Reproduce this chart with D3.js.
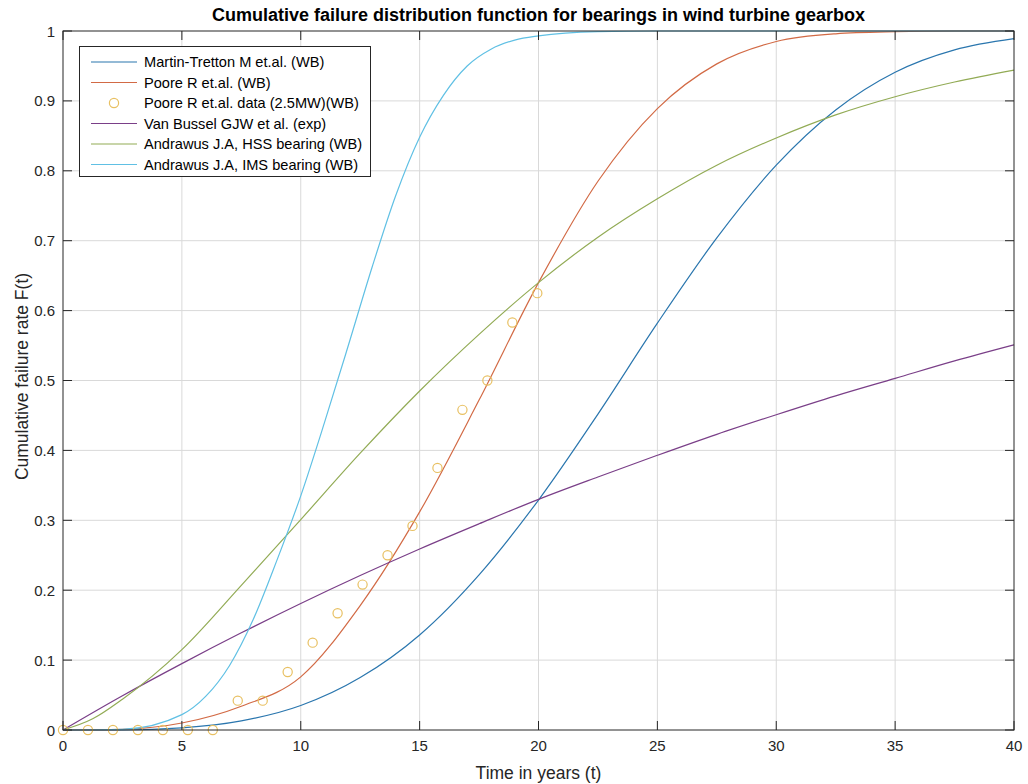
<!DOCTYPE html>
<html lang="en">
<head>
<meta charset="UTF-8">
<title>Cumulative failure distribution</title>
<script src="https://d3js.org/d3.v7.min.js"></script>
<style>
    body { margin: 0; background: #fff; }
    svg { font-family: "Liberation Sans", Arial, sans-serif; }
</style>
</head>
<body>
<svg id="chart" width="1028" height="784"></svg>
<script>
    // values
    const martinT = [0, 2.5, 5, 7.5, 10, 12.5, 15, 17.5, 20, 22.5, 25, 27.5, 30, 32.5, 35, 37.5, 40];
    const martinF = [0, 0.000, 0.003, 0.013, 0.035, 0.075, 0.136, 0.222, 0.329, 0.452, 0.582, 0.704, 0.808, 0.887, 0.941, 0.973, 0.989];

    const pooreT = [0, 2.5, 5, 7.5, 10, 12.5, 15, 17.5, 20, 22.5, 25, 27.5, 30, 32.5, 35, 37.5, 40];
    const pooreF = [0, 0.001, 0.010, 0.034, 0.076, 0.178, 0.312, 0.472, 0.640, 0.785, 0.889, 0.953, 0.985, 0.996, 0.999, 1.0, 1.0];

    const dataT = [0, 1.05, 2.1, 3.15, 4.2, 5.25, 6.3, 7.35, 8.4, 9.45, 10.5, 11.55, 12.6, 13.65, 14.7, 15.75, 16.8, 17.85, 18.9, 19.95];
    const dataF = [0, 0, 0, 0, 0, 0, 0, 0.042, 0.042, 0.083, 0.125, 0.167, 0.208, 0.25, 0.292, 0.375, 0.458, 0.5, 0.583, 0.625];

    const busselT = [0, 2.5, 5, 7.5, 10, 12.5, 15, 17.5, 20, 22.5, 25, 27.5, 30, 32.5, 35, 37.5, 40];
    const busselF = [0, 0.049, 0.095, 0.139, 0.181, 0.221, 0.259, 0.295, 0.330, 0.362, 0.393, 0.423, 0.451, 0.478, 0.503, 0.528, 0.551];

    const hssT = [0, 1.25, 2.5, 5, 7.5, 10, 12.5, 15, 17.5, 20, 22.5, 25, 27.5, 30, 32.5, 35, 37.5, 40];
    const hssF = [0, 0.016, 0.044, 0.115, 0.207, 0.301, 0.396, 0.485, 0.566, 0.640, 0.705, 0.760, 0.808, 0.847, 0.880, 0.906, 0.927, 0.944];

    const imsT = [0, 2.5, 5, 6, 7, 8, 9, 10, 11, 12, 13, 14, 15, 16, 17, 18, 19, 20, 22.5, 25, 30, 35, 40];
    const imsF = [0, 0.001, 0.022, 0.048, 0.092, 0.158, 0.243, 0.335, 0.44, 0.55, 0.662, 0.765, 0.848, 0.908, 0.95, 0.974, 0.987, 0.993, 0.999, 1, 1, 1, 1];

    const xTicks = [0, 5, 10, 15, 20, 25, 30, 35, 40];
    const yTicks = [0, 0.1, 0.2, 0.3, 0.4, 0.5, 0.6, 0.7, 0.8, 0.9, 1];

    const seriesNames = ["Martin-Tretton M et.al. (WB)", "Poore R et.al. (WB)", "Poore R et.al. data (2.5MW)(WB)",
        "Van Bussel GJW et al. (exp)", "Andrawus J.A, HSS bearing (WB)", "Andrawus J.A, IMS bearing (WB)"];
    const seriesColors = ["#2a76ae", "#d26a45", "#e8c062", "#7a3f88", "#92ab55", "#60c0e4"];

    const margin = {left: 63, right: 14, top: 31, bottom: 54};
    const width = 1028, height = 784;
    const svg = d3.select("#chart");

    const x = d3.scaleLinear().domain([0, 40]).range([margin.left, width - margin.right]);
    const y = d3.scaleLinear().domain([0, 1]).range([height - margin.bottom, margin.top]);

    const axisColor = "#262626";
    const tickLen = 9;

    // grid
    const grid = svg.append("g");
    grid.selectAll(".gx").data(xTicks.slice(1, -1)).enter().append("line")
        .attr("x1", d => x(d)).attr("x2", d => x(d))
        .attr("y1", y(0)).attr("y2", y(1))
        .attr("stroke", "#d9d9d9").attr("stroke-width", 1);
    grid.selectAll(".gy").data(yTicks.slice(1, -1)).enter().append("line")
        .attr("y1", d => y(d)).attr("y2", d => y(d))
        .attr("x1", x(0)).attr("x2", x(40))
        .attr("stroke", "#d9d9d9").attr("stroke-width", 1);

    // curves
    const line = d3.line().x(d => x(d[0])).y(d => y(d[1])).curve(d3.curveMonotoneX);
    const curves = [
        [martinT, martinF, 0],
        [pooreT, pooreF, 1],
        [busselT, busselF, 3],
        [hssT, hssF, 4],
        [imsT, imsF, 5]
    ];
    curves.forEach(c => {
        const pts = c[0].map((t, i) => [t, c[1][i]]);
        svg.append("path")
            .attr("d", line(pts))
            .attr("fill", "none")
            .attr("stroke", seriesColors[c[2]])
            .attr("stroke-width", 1.2);
    });

    // data points
    svg.append("g").selectAll("circle")
        .data(dataT.map((t, i) => [t, dataF[i]]))
        .enter().append("circle")
        .attr("cx", d => x(d[0])).attr("cy", d => y(d[1]))
        .attr("r", 4.6)
        .attr("fill", "none")
        .attr("stroke", seriesColors[2])
        .attr("stroke-width", 1.2);

    // axes box with inward ticks
    const axes = svg.append("g");
    axes.append("rect")
        .attr("x", x(0)).attr("y", y(1))
        .attr("width", x(40) - x(0)).attr("height", y(0) - y(1))
        .attr("fill", "none").attr("stroke", axisColor).attr("stroke-width", 1);

    xTicks.forEach(t => {
        axes.append("line").attr("x1", x(t)).attr("x2", x(t))
            .attr("y1", y(0)).attr("y2", y(0) - tickLen).attr("stroke", axisColor);
        axes.append("line").attr("x1", x(t)).attr("x2", x(t))
            .attr("y1", y(1)).attr("y2", y(1) + tickLen).attr("stroke", axisColor);
        axes.append("text").attr("x", x(t)).attr("y", y(0) + 21)
            .attr("text-anchor", "middle").attr("font-size", 15).attr("fill", axisColor)
            .text(t);
    });
    yTicks.forEach(v => {
        axes.append("line").attr("x1", x(0)).attr("x2", x(0) + tickLen)
            .attr("y1", y(v)).attr("y2", y(v)).attr("stroke", axisColor);
        axes.append("line").attr("x1", x(40)).attr("x2", x(40) - tickLen)
            .attr("y1", y(v)).attr("y2", y(v)).attr("stroke", axisColor);
        axes.append("text").attr("x", x(0) - 8).attr("y", y(v) + 5.5)
            .attr("text-anchor", "end").attr("font-size", 15).attr("fill", axisColor)
            .text(v);
    });

    // labels
    svg.append("text")
        .attr("x", (x(0) + x(40)) / 2).attr("y", 21)
        .attr("text-anchor", "middle").attr("font-size", 18).attr("font-weight", "bold")
        .attr("fill", "#000")
        .text("Cumulative failure distribution function for bearings in wind turbine gearbox");
    svg.append("text")
        .attr("x", (x(0) + x(40)) / 2).attr("y", 779)
        .attr("text-anchor", "middle").attr("font-size", 17.5).attr("fill", axisColor)
        .text("Time in years (t)");
    svg.append("text")
        .attr("transform", "translate(28," + ((y(0) + y(1)) / 2 - 4) + ") rotate(-90)")
        .attr("text-anchor", "middle").attr("font-size", 17.5).attr("fill", axisColor)
        .text("Cumulative failure rate F(t)");

    // legend
    const legend = svg.append("g");
    legend.append("rect")
        .attr("x", 79.5).attr("y", 46.5).attr("width", 291).attr("height", 130)
        .attr("fill", "#fff").attr("stroke", axisColor).attr("stroke-width", 1);
    seriesNames.forEach((name, i) => {
        const ly = 62 + i * 20.5;
        if (i === 2) {
            legend.append("circle").attr("cx", 114).attr("cy", ly).attr("r", 4.6)
                .attr("fill", "none").attr("stroke", seriesColors[i]).attr("stroke-width", 1.2);
        } else {
            legend.append("line").attr("x1", 91).attr("x2", 137)
                .attr("y1", ly).attr("y2", ly)
                .attr("stroke", seriesColors[i]).attr("stroke-width", 1.2);
        }
        legend.append("text").attr("x", 144).attr("y", ly + 5)
            .attr("font-size", 14.6).attr("fill", "#000")
            .text(name);
    });
</script>
</body>
</html>
